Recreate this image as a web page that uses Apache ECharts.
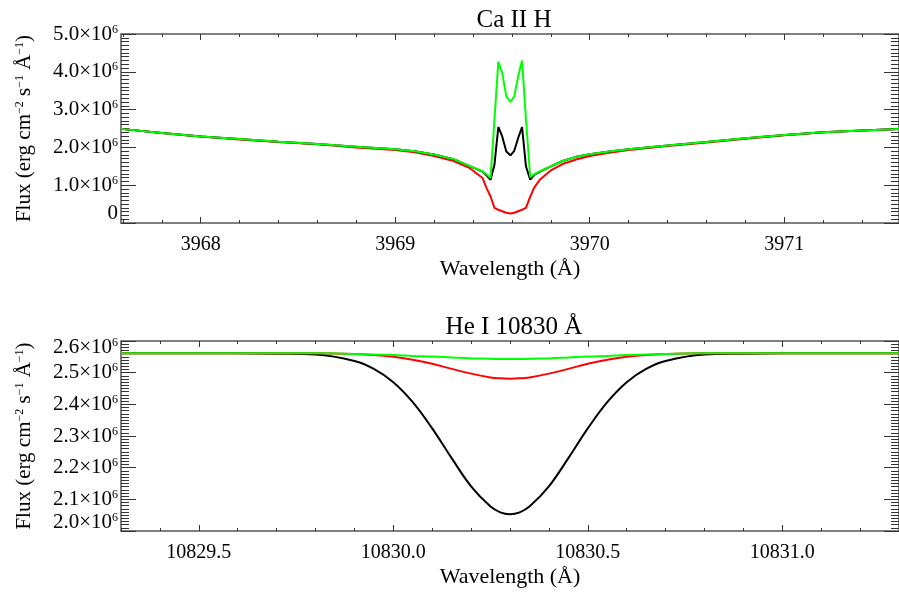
<!DOCTYPE html>
<html>
<head>
<meta charset="utf-8">
<script src="https://cdn.jsdelivr.net/npm/echarts@6/dist/echarts.min.js"></script>
<style>
	html, body { margin: 0; padding: 0; background: #fff; }
	#chart { width: 899px; height: 595px; }
</style>
</head>
<body>
<div id="chart"></div>
<script>
// Ca II H panel (flux in units of 1e6)
var caWave = [3967.59, 3967.8, 3968.0, 3968.2, 3968.4, 3968.6, 3968.8, 3969.0, 3969.1, 3969.2,
	3969.3, 3969.38, 3969.449, 3969.469, 3969.490, 3969.510, 3969.530, 3969.550, 3969.571, 3969.592,
	3969.612, 3969.632, 3969.652, 3969.672, 3969.694, 3969.714, 3969.744, 3969.8, 3969.86, 3969.93,
	3970.0, 3970.1, 3970.2, 3970.4, 3970.6, 3970.8, 3971.0, 3971.2, 3971.4, 3971.59];
var caBlack = [2.49, 2.38, 2.29, 2.22, 2.15, 2.09, 2.02, 1.95, 1.90, 1.81,
	1.69, 1.51, 1.36, 1.26, 1.145, 1.54, 2.54, 2.29, 1.89, 1.79,
	1.91, 2.25, 2.54, 1.50, 1.145, 1.27, 1.36, 1.50, 1.64, 1.75,
	1.82, 1.89, 1.95, 2.05, 2.14, 2.24, 2.33, 2.40, 2.45, 2.49];
var caRed = [2.49, 2.38, 2.29, 2.21, 2.14, 2.08, 2.00, 1.93, 1.87, 1.77,
	1.64, 1.46, 1.19, 0.93, 0.70, 0.40, 0.35, 0.31, 0.27, 0.25,
	0.27, 0.31, 0.35, 0.40, 0.70, 0.93, 1.15, 1.39, 1.56, 1.68,
	1.77, 1.86, 1.93, 2.04, 2.13, 2.23, 2.32, 2.40, 2.45, 2.49];
var caGreen = [2.49, 2.38, 2.29, 2.22, 2.15, 2.09, 2.02, 1.95, 1.90, 1.81,
	1.69, 1.51, 1.37, 1.29, 1.19, 2.73, 4.27, 3.97, 3.35, 3.20,
	3.35, 3.88, 4.30, 2.75, 1.21, 1.29, 1.37, 1.50, 1.64, 1.75,
	1.82, 1.89, 1.95, 2.05, 2.14, 2.24, 2.33, 2.40, 2.45, 2.49];
var caTicks = [3968, 3969, 3970, 3971];

// He I 10830 panel
var heWave = [10829.3, 10829.5, 10829.6, 10829.7, 10829.8, 10829.9, 10829.95, 10830.0, 10830.05,
	10830.1, 10830.15, 10830.2, 10830.25, 10830.275, 10830.3, 10830.325, 10830.35, 10830.4, 10830.45,
	10830.5, 10830.55, 10830.6, 10830.65, 10830.7, 10830.8, 10830.9, 10831.0, 10831.1, 10831.3];
var heBlack = [2.561, 2.561, 2.561, 2.560, 2.557, 2.537, 2.512, 2.470, 2.407,
	2.324, 2.230, 2.141, 2.077, 2.059, 2.053, 2.059, 2.077, 2.141, 2.230,
	2.324, 2.407, 2.470, 2.512, 2.537, 2.557, 2.560, 2.561, 2.561, 2.561];
var heRed = [2.561, 2.561, 2.561, 2.561, 2.561, 2.559, 2.556, 2.550, 2.541,
	2.528, 2.512, 2.497, 2.485, 2.482, 2.481, 2.482, 2.485, 2.497, 2.512,
	2.528, 2.541, 2.550, 2.556, 2.559, 2.561, 2.561, 2.561, 2.561, 2.561];
var heGreen = [2.561, 2.561, 2.561, 2.561, 2.561, 2.559, 2.557, 2.556, 2.553,
	2.551, 2.548, 2.545, 2.544, 2.543, 2.543, 2.543, 2.544, 2.545, 2.548,
	2.551, 2.553, 2.556, 2.557, 2.559, 2.561, 2.561, 2.561, 2.561, 2.561];
var heTicks = [10829.5, 10830.0, 10830.5, 10831.0];

var FONT = 'Liberation Serif';

function pairs(xs, ys) {
	return xs.map(function (x, i) { return [x, ys[i]]; });
}

function steps(from, to, step) {
	var out = [];
	var n = Math.round((to - from) / step);
	for (var i = 0; i <= n; i++) out.push(+(from + i * step).toFixed(3));
	return out;
}

// four x axes per panel: bottom labels/major, bottom minor, top major, top minor
function xAxes(g, min, max, majors, minors, fmt) {
	var tickStyle = {color: '#333', width: 1};
	var base = {type: 'value', gridIndex: g, min: min, max: max,
		axisLine: {show: false}, splitLine: {show: false}};
	return [
		Object.assign({}, base, {
			position: 'bottom',
			name: 'Wavelength (Å)', nameLocation: 'middle', nameGap: 35,
			nameTextStyle: {fontFamily: FONT, fontSize: 22, color: '#000'},
			axisTick: {inside: true, length: 6, customValues: majors, lineStyle: tickStyle},
			axisLabel: {customValues: majors, formatter: fmt, margin: 12,
				fontFamily: FONT, fontSize: 20, color: '#000'}
		}),
		Object.assign({}, base, {
			position: 'bottom',
			axisTick: {inside: true, length: 3, customValues: minors, lineStyle: tickStyle},
			axisLabel: {show: false}
		}),
		Object.assign({}, base, {
			position: 'top',
			axisTick: {inside: true, length: 6, customValues: majors, lineStyle: tickStyle},
			axisLabel: {show: false}
		}),
		Object.assign({}, base, {
			position: 'top',
			axisTick: {inside: true, length: 3, customValues: minors, lineStyle: tickStyle},
			axisLabel: {show: false}
		})
	];
}

var labelRich = {
	t: {fontFamily: FONT, fontSize: 21, lineHeight: 21, color: '#000'},
	sup: {fontFamily: FONT, fontSize: 12, lineHeight: 11, verticalAlign: 'top', color: '#000'},
	g12: {fontSize: 4, lineHeight: 12},
	g18: {fontSize: 4, lineHeight: 18},
	g20: {fontSize: 4, lineHeight: 20}
};

function sci(v) {
	return '{t|' + v.toFixed(1) + '×10}{sup|6}';
}

function yAxes(g, min, max, interval, fmt) {
	var tickStyle = {color: '#333', width: 1};
	var common = {type: 'value', gridIndex: g, min: min, max: max, interval: interval,
		axisLine: {show: false}, splitLine: {show: false},
		axisTick: {inside: true, length: 15, lineStyle: tickStyle},
		minorTick: {show: true, splitNumber: 10, length: 8, lineStyle: tickStyle}};
	return [
		Object.assign({}, common, {
			position: 'left',
			name: 'Flux (erg cm{sup|−2} s{sup|−1} Å{sup|−1})',
			nameLocation: 'middle', nameGap: 86, nameRotate: 90,
			nameTextStyle: {fontFamily: FONT, fontSize: 21, color: '#000',
				rich: {sup: {fontFamily: FONT, fontSize: 12, lineHeight: 12, verticalAlign: 'top'}}},
			axisLabel: {formatter: fmt, margin: 3, rich: labelRich}
		}),
		Object.assign({}, common, {position: 'right', axisLabel: {show: false}})
	];
}

var chart = echarts.init(document.getElementById('chart'));

chart.setOption({
	animation: false,
	backgroundColor: '#fff',
	title: [{
		text: 'Ca II H', left: 509, top: 3, textAlign: 'center',
		textStyle: {fontFamily: FONT, fontSize: 25, fontWeight: 'normal', color: '#000'}
	}, {
		text: 'He I 10830 Å', left: 509, top: 310, textAlign: 'center',
		textStyle: {fontFamily: FONT, fontSize: 25, fontWeight: 'normal', color: '#000'}
	}],
	grid: [
		{left: 121, right: -6, top: 34, height: 189, show: true, borderColor: '#555', borderWidth: 1.5},
		{left: 121, right: -6, top: 341, height: 190, show: true, borderColor: '#555', borderWidth: 1.5}
	],
	xAxis: xAxes(0, 3967.59, 3971.59, caTicks, steps(3967.6, 3971.4, 0.2),
		function (v) { return v.toFixed(0); })
		.concat(xAxes(1, 10829.3, 10831.3, heTicks, steps(10829.3, 10831.3, 0.1),
		function (v) { return v.toFixed(1); })),
	yAxis: yAxes(0, 0, 5, 1, function (v) {
		return v === 0 ? '{t|0}\n{g20| }' : sci(v);
	}).concat(yAxes(1, 2.0, 2.6, 0.1, function (v) {
		if (Math.abs(v - 2.6) < 1e-6) return '{g12| }\n' + sci(v);
		if (Math.abs(v - 2.0) < 1e-6) return sci(v) + '\n{g18| }';
		return sci(v);
	})),
	series: [
		{type: 'line', xAxisIndex: 0, yAxisIndex: 0, data: pairs(caWave, caRed),
			showSymbol: false, lineStyle: {color: '#ff0000', width: 2}},
		{type: 'line', xAxisIndex: 0, yAxisIndex: 0, data: pairs(caWave, caBlack),
			showSymbol: false, lineStyle: {color: '#000000', width: 2}},
		{type: 'line', xAxisIndex: 0, yAxisIndex: 0, data: pairs(caWave, caGreen),
			showSymbol: false, lineStyle: {color: '#00ff00', width: 2}},
		{type: 'line', xAxisIndex: 4, yAxisIndex: 2, data: pairs(heWave, heBlack),
			showSymbol: false, smooth: 0.4, lineStyle: {color: '#000000', width: 2}},
		{type: 'line', xAxisIndex: 4, yAxisIndex: 2, data: pairs(heWave, heRed),
			showSymbol: false, smooth: 0.4, lineStyle: {color: '#ff0000', width: 2}},
		{type: 'line', xAxisIndex: 4, yAxisIndex: 2, data: pairs(heWave, heGreen),
			showSymbol: false, smooth: 0.4, lineStyle: {color: '#00ff00', width: 2}}
	]
});
</script>
</body>
</html>
